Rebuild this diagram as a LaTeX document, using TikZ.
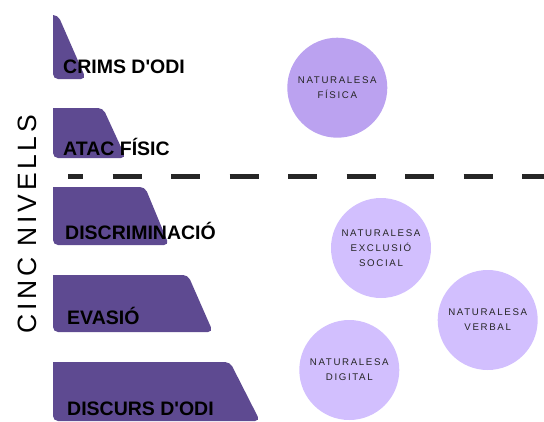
\documentclass[tikz,border=0pt]{standalone}
\usepackage{fontspec}
\setmainfont{Liberation Sans}
\newfontfamily\nivellsfont[LetterSpace=14]{Liberation Sans}
\newfontfamily\naturafont[LetterSpace=17]{Liberation Sans}
\definecolor{nivellcolor}{HTML}{5E4A91}
\definecolor{fisicacolor}{HTML}{BBA2F0}
\definecolor{naturacolor}{HTML}{D2BFFE}
\definecolor{textcolor}{HTML}{262626}
\tikzset{
    nivell/.style={fill=nivellcolor},
    nivelltext/.style={anchor=base west, inner sep=0pt, font=\fontsize{19.5}{19.5}\selectfont\bfseries},
    natura/.style={circle, minimum size=100pt, inner sep=0pt, align=center, text=textcolor,
        font=\naturafont\fontsize{9.7}{15}\selectfont}
}

\begin{document}
\begin{tikzpicture}[x=1pt, y=-1pt]
    \useasboundingbox (0,0) rectangle (544,421);
    % Five levels
    \def\Left{53};
    \fill[nivell] (\Left,15) [rounded corners=5pt] -- (58,15) -- (86,79) -- (\Left,79) [sharp corners] -- cycle;
    \fill[nivell] (\Left,108) [rounded corners=5pt] -- (103,108) -- (126,158) -- (\Left,158) [sharp corners] -- cycle;
    \fill[nivell] (\Left,187) [rounded corners=5pt] -- (145,187) -- (169,245) -- (\Left,245) [sharp corners] -- cycle;
    \fill[nivell] (\Left,275) [rounded corners=5pt] -- (188,275) -- (213,332) -- (\Left,332) [sharp corners] -- cycle;
    \fill[nivell] (\Left,362) [rounded corners=5pt] -- (230,362) -- (260,421) -- (\Left,421) [sharp corners] -- cycle;
    % Level labels
    \node[nivelltext] (crims) at (63,73) {CRIMS D\textquotesingle ODI};
    \node[nivelltext] (atac) at (63,155) {ATAC FÍSIC};
    \node[nivelltext] (discriminacio) at (65,239) {DISCRIMINACIÓ};
    \node[nivelltext] (evasio) at (67,324) {EVASIÓ};
    \node[nivelltext] (discurs) at (67,415) {DISCURS D\textquotesingle ODI};
    % Side title
    \node[rotate=90, inner sep=0pt, font=\nivellsfont\fontsize{26.5}{26.5}\selectfont] (cinc) at (27,224) {CINC NIVELLS};
    % Dividing line
    \draw[line width=5pt, dash pattern=on 29pt off 29.5pt, dash phase=14pt, color=textcolor] (68,176.7) -- (544,176.7);
    % Natures
    \node[natura, fill=fisicacolor] (fisica) at (337.3,87.7) {NATURALESA\\FÍSICA};
    \node[natura, fill=naturacolor] (exclusio) at (381,248) {NATURALESA\\EXCLUSIÓ\\SOCIAL};
    \node[natura, fill=naturacolor] (verbal) at (487.7,320) {NATURALESA\\VERBAL};
    \node[natura, fill=naturacolor] (digital) at (349.3,370) {NATURALESA\\DIGITAL};
\end{tikzpicture}
\end{document}
